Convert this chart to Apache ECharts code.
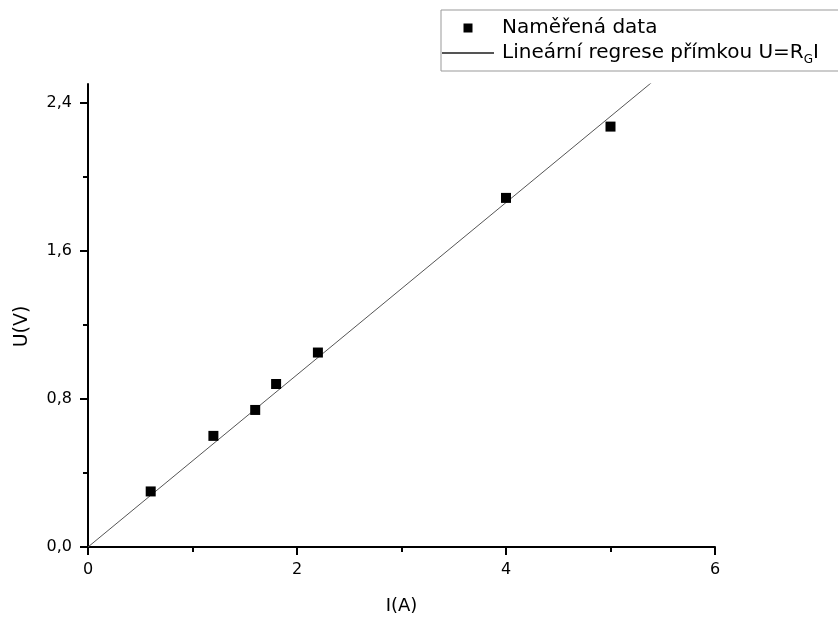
<!DOCTYPE html>
<html><head><meta charset="utf-8">
<script src="https://cdn.jsdelivr.net/npm/echarts@6/dist/echarts.min.js"></script>
<style>html,body{margin:0;padding:0;background:#fff}#c{width:838px;height:621px}</style>
</head><body><div id="c"></div>
<script>
// Measured data
const currentA = [0.6, 1.2, 1.6, 1.8, 2.2, 4.0, 5.0];
const voltageV = [0.30, 0.60, 0.74, 0.88, 1.05, 1.885, 2.27];
// Linear regression through origin U = R_G * I (slope)
const fitSlope = [0.465];
const fitX = [0, 6];
const xTicks = [0, 2, 4, 6];
const yTicks = [0.0, 0.8, 1.6, 2.4];
const seriesNames = ['Naměřená data', 'Lineární regrese přímkou U=RGI'];

const measured = currentA.map((x, i) => [x, voltageV[i]]);
const fitLine = fitX.map(x => [x, fitSlope[0] * x]);

const chart = echarts.init(document.getElementById('c'), null, {renderer: 'canvas'});
const font = 'DejaVu Sans, sans-serif';
chart.setOption({
  animation: false,
  backgroundColor: '#fff',
  textStyle: {fontFamily: font},
  grid: {left: 88, right: 123, top: 84, bottom: 74, containLabel: false},
  legend: {
    left: 441, top: 10, orient: 'vertical',
    borderColor: '#999', borderWidth: 1,
    padding: [8, 40, 5, 0],
    itemWidth: 52, itemHeight: 9, itemGap: 5,
    data: [
      {name: seriesNames[0], icon: 'path://M0,0H1V1H0Z', itemStyle: {opacity: 1, color: '#000'}},
      {name: seriesNames[1], itemStyle: {opacity: 0}}
    ],
    formatter: function (n) {
      if (n === seriesNames[1]) return '{q|Lineární regrese přímkou U=R}{s|G}{a|I}';
      return '{p|' + n + '}';
    },
    textStyle: {
      color: '#000', fontFamily: font, fontSize: 20,
      rich: {
        p: {fontSize: 20, fontFamily: font, color: '#000', padding: [0, 0, 0, 3]},
        q: {fontSize: 20, fontFamily: font, color: '#000', padding: [0, 0, 0, 3]},
        a: {fontSize: 20, fontFamily: font, color: '#000'},
        s: {fontSize: 12, fontFamily: font, color: '#000', padding: [14, 0, 0, 0]}
      }
    }
  },
  xAxis: {
    type: 'value', min: 0, max: 6, interval: 2,
    name: 'I(A)', nameLocation: 'middle', nameGap: 50,
    nameTextStyle: {fontSize: 18, color: '#000', fontFamily: font},
    axisLine: {show: true, onZero: false, lineStyle: {color: '#000', width: 2}},
    axisTick: {show: true, inside: false, length: 8, lineStyle: {color: '#000', width: 2}},
    minorTick: {show: true, splitNumber: 2, length: 5, lineStyle: {color: '#000', width: 2}},
    splitLine: {show: false},
    axisLabel: {fontSize: 16, color: '#000', margin: 15, fontFamily: font,
      formatter: v => (xTicks.indexOf(v) >= 0 ? String(v) : '')}
  },
  yAxis: {
    type: 'value', min: 0, max: 2.5, interval: 0.8,
    name: 'U(V)', nameLocation: 'middle', nameGap: 56, nameRotate: 90,
    nameTextStyle: {fontSize: 19, color: '#000', fontFamily: font, padding: [0, 22, 0, 0]},
    axisLine: {show: true, onZero: false, lineStyle: {color: '#000', width: 2}},
    axisTick: {show: true, inside: false, length: 8, customValues: yTicks, lineStyle: {color: '#000', width: 2}},
    minorTick: {show: true, splitNumber: 2, length: 5, lineStyle: {color: '#000', width: 2}},
    splitLine: {show: false},
    axisLabel: {fontSize: 16, color: '#000', margin: 16, fontFamily: font, showMaxLabel: false,
      formatter: v => (yTicks.some(t => Math.abs(t - v) < 1e-9) ? v.toFixed(1).replace('.', ',') : '')}
  },
  series: [
    {
      name: seriesNames[0], type: 'scatter', data: measured,
      symbol: 'rect', symbolSize: 10, itemStyle: {color: '#000', opacity: 1}, z: 3
    },
    {
      name: seriesNames[1], type: 'line', data: fitLine, clip: true,
      symbol: 'none', showSymbol: false,
      lineStyle: {color: '#555', width: 1}, itemStyle: {color: '#555'}, z: 2
    }
  ]
});
</script>
</body></html>
